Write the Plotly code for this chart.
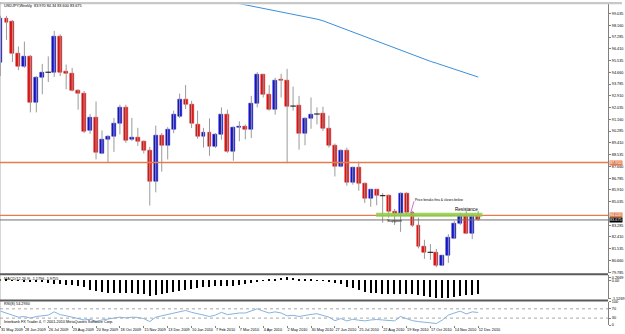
import plotly.graph_objects as go

W, H = 625, 334

# ---------------- data ----------------
opens = [95.43, 98.67, 98.42, 96.05, 95.12, 95.85, 92.42, 94.31, 94.67, 94.63,
         97.32, 94.70, 94.55, 93.33, 93.11, 90.34, 91.32, 88.62, 89.65, 89.90,
         90.83, 92.05, 89.65, 89.80, 89.55, 88.82, 86.54, 89.97, 89.19, 90.39,
         91.39, 92.67, 92.30, 90.78, 89.92, 90.17, 89.16, 90.02, 91.56, 88.79,
         90.53, 90.66, 90.39, 92.37, 94.50, 93.03, 91.88, 94.14, 94.06, 92.15,
         92.22, 90.09, 91.20, 91.56, 91.60, 90.51, 89.19, 87.64, 88.82, 86.46,
         87.59, 86.42, 85.31, 85.93, 85.48, 85.48, 84.33, 84.14, 85.63, 84.21,
         83.23, 81.71, 81.27, 81.22, 80.29, 81.02, 82.32, 83.42, 84.04, 82.69,
         83.97]
highs = [98.87, 98.87, 98.55, 96.59, 96.95, 95.95, 94.38, 95.29, 95.85, 97.74,
         97.49, 95.24, 94.99, 93.40, 93.28, 91.56, 92.49, 90.34, 89.97, 91.27,
         92.25, 92.25, 91.27, 90.53, 89.60, 89.11, 90.70, 90.14, 90.58, 91.81,
         93.08, 93.72, 92.54, 91.81, 90.53, 91.24, 90.14, 92.05, 91.88, 90.63,
         91.02, 90.78, 92.91, 94.67, 94.55, 93.72, 94.26, 94.55, 94.92, 93.60,
         92.91, 91.32, 92.79, 92.05, 92.10, 91.44, 89.36, 88.91, 89.06, 87.64,
         88.01, 86.46, 85.97, 85.97, 85.68, 85.56, 84.50, 85.73, 85.73, 84.33,
         83.84, 82.20, 81.88, 81.51, 81.07, 82.62, 83.60, 84.21, 84.33, 84.16,
         84.34]
lows = [94.38, 97.08, 95.43, 94.82, 94.99, 91.68, 91.68, 93.03, 93.94, 94.31,
        94.38, 93.40, 93.23, 91.88, 90.14, 90.09, 88.18, 88.57, 87.96, 88.74,
        90.04, 89.41, 89.55, 89.19, 88.62, 84.75, 85.73, 87.27, 88.18, 90.14,
        91.27, 91.93, 90.51, 89.72, 89.06, 88.45, 89.04, 89.65, 88.67, 88.08,
        89.53, 89.67, 89.77, 92.05, 92.79, 91.81, 91.51, 92.79, 87.89, 91.81,
        88.91, 89.23, 90.46, 90.78, 90.30, 89.06, 86.91, 87.59, 86.22, 86.30,
        85.85, 84.94, 84.65, 84.77, 83.47, 83.84, 83.30, 82.79, 84.04, 83.16,
        81.56, 80.78, 80.70, 80.17, 80.24, 80.48, 82.25, 83.30, 82.62, 82.25,
        83.60]
closes = [98.67, 98.375, 96.05, 95.12, 95.85, 92.42, 94.31, 94.67, 94.67, 97.32,
          94.67, 94.55, 93.33, 93.11, 90.29, 91.32, 88.70, 89.65, 89.90, 90.83,
          92.05, 89.60, 89.80, 89.55, 88.82, 86.54, 89.97, 89.19, 90.39, 91.49,
          92.67, 92.30, 90.83, 89.92, 90.17, 89.16, 90.02, 91.56, 88.79, 90.58,
          90.66, 90.39, 92.37, 94.50, 93.03, 91.88, 94.09, 94.06, 92.12, 92.15,
          90.09, 91.20, 91.56, 91.56, 90.50, 89.19, 87.64, 88.82, 86.46, 87.59,
          86.42, 85.31, 85.93, 85.48, 85.48, 84.33, 84.14, 85.63, 84.21, 83.23,
          81.71, 81.27, 81.27, 80.29, 81.02, 82.37, 83.42, 84.04, 82.69, 83.95,
          83.675]

# moving average (drawn from bar 38 onwards)
ma_start = 38
ma_vals = [99.95, 99.86, 99.77, 99.68, 99.59, 99.50, 99.42, 99.34, 99.26, 99.17,
           99.09, 99.01, 98.92, 98.83, 98.73, 98.62, 98.50, 98.33, 98.16, 98.00,
           97.83, 97.66, 97.49, 97.32, 97.16, 96.99, 96.82, 96.65, 96.48, 96.32,
           96.15, 95.98, 95.81, 95.64, 95.48, 95.34, 95.19, 95.04, 94.90, 94.75,
           94.60, 94.45, 94.31]

macd = [0.05, 0.02, -0.02, -0.05, -0.08, -0.12, -0.15, -0.18, -0.20, -0.33,
        -0.33, -0.39, -0.42, -0.47, -0.61, -0.81, -0.89, -1.03, -1.08, -1.11,
        -1.11, -1.11, -1.11, -1.14, -1.19, -1.31, -1.25, -1.17, -1.11, -1.03,
        -0.94, -0.83, -0.75, -0.69, -0.61, -0.58, -0.53, -0.53, -0.47, -0.47,
        -0.39, -0.36, -0.25, -0.08, -0.03, 0.03, 0.08, 0.18, 0.267, 0.20,
        0.10, 0.05, 0.02, -0.02, -0.05, -0.15, -0.28, -0.36, -0.56, -0.64,
        -0.83, -0.97, -1.06, -1.11, -1.14, -1.14, -1.17, -1.19, -1.19, -1.19,
        -1.25, -1.31, -1.39, -1.47, -1.527, -1.50, -1.42, -1.33, -1.27, -1.22,
        -1.18]

rsi = [60, 52, 42, 34, 37, 30, 37, 40, 43, 57,
       45, 40, 34, 30, 22, 25, 16, 22, 27, 30,
       34, 31, 34, 33, 28, 15, 34, 40, 45, 52,
       58, 63, 55, 48, 43, 37, 43, 55, 45, 49,
       52, 52, 60, 70, 60, 52, 57, 52, 40, 42,
       37, 43, 46, 49, 43, 34, 19, 28, 18, 25,
       21, 18, 22, 24, 22, 21, 18, 37, 28, 19,
       15, 13, 12, 7, 22, 43, 52, 60, 48, 57,
       54.29]

date_labels = ["31 May 2009", "28 Jun 2009", "26 Jul 2009", "23 Aug 2009", "20 Sep 2009",
               "18 Oct 2009", "15 Nov 2009", "13 Dec 2009", "10 Jan 2010", "7 Feb 2010",
               "7 Mar 2010", "4 Apr 2010", "2 May 2010", "30 May 2010", "27 Jun 2010",
               "25 Jul 2010", "22 Aug 2010", "19 Sep 2010", "17 Oct 2010", "14 Nov 2010",
               "12 Dec 2010"]
date_step = 4

# 84.160 is hidden behind the orange level box in the reference
price_labels = ["99.035", "98.160", "97.285", "96.410", "95.535", "94.660", "93.785",
                "92.910", "92.035", "91.160", "90.285", "89.410", "88.535", "87.660",
                "86.785", "85.910", "85.035", "83.285", "82.410", "81.535",
                "80.660", "79.785"]

support_level_1 = 87.95
support_level_2 = 84.02
bid_price = 83.675
green_level = 84.07
green_from, green_to = 62.9, 80.7

title_text = "USDJPY,Weekly  83.970 84.34 83.600 83.675"
macd_text = "MACD(12,26,9) -1.1796 -1.9755"
rsi_text = "RSI(8) 54.2930"
footer_text = "Interbank FX Trader 4, \u00a9 2001-2010 MetaQuotes Software Corp."
macd_tick_vals = [0.2669, 0.0, -1.5269]
macd_tick_text = ["0.2669", "0.00", "-1.5269"]
rsi_tick_vals = [100, 70, 30, 0]

# ---------------- styles ----------------
RED = "#DC1414"
BLUE = "#1414C8"
WICK = "#9A9A9A"
ORANGE = "#E57C4C"
FONT = "Liberation Sans"
FS = 3.8

n = len(closes)
xs = list(range(n))

fig = go.Figure()

# wicks
wx, wy = [], []
for i in xs:
    wx += [i, i, None]
    wy += [lows[i], highs[i], None]
fig.add_trace(go.Scatter(x=wx, y=wy, mode="lines", line=dict(color=WICK, width=1),
                         hoverinfo="skip", showlegend=False, xaxis="x", yaxis="y"))

# bodies
bx, bbase, bh, bc = [], [], [], []
dx, dy = [], []
for i in xs:
    o, c = opens[i], closes[i]
    if o == c:
        dx.append(i)
        dy.append(c)
        continue
    bx.append(i)
    bbase.append(min(o, c))
    bh.append(abs(c - o))
    bc.append(BLUE if c > o else RED)
fig.add_trace(go.Bar(x=bx, y=bh, base=bbase, width=0.66,
                     marker=dict(color=bc, line=dict(color=bc, width=0.5)),
                     showlegend=False, xaxis="x", yaxis="y"))
fig.add_trace(go.Scatter(x=dx, y=dy, mode="markers",
                         marker=dict(symbol="line-ew", size=4, line=dict(color="black", width=1)),
                         showlegend=False, xaxis="x", yaxis="y"))

# moving average
fig.add_trace(go.Scatter(x=list(range(ma_start, ma_start + len(ma_vals))), y=ma_vals,
                         mode="lines", line=dict(color="#3A8EDB", width=1),
                         showlegend=False, xaxis="x", yaxis="y"))

# MACD histogram
fig.add_trace(go.Bar(x=xs, y=macd, width=0.24, marker=dict(color="black", line=dict(width=0)),
                     showlegend=False, xaxis="x", yaxis="y2"))

# RSI
fig.add_trace(go.Scatter(x=xs, y=rsi, mode="lines", line=dict(color="#86B2DE", width=1),
                         showlegend=False, xaxis="x", yaxis="y3"))

# ---------------- layout ----------------
px_per_bar = 6.0
plot_right = 611.0
xr = [-0.5 / px_per_bar, (plot_right - 0.5) / px_per_bar]

def py(pix):
    return 1 - pix / H

main_top, main_bot = 2.5, 274.5
macd_top, macd_bot = 276.5, 300.5
rsi_top, rsi_bot = 303.5, 327.0

price_tickvals = [float(s) for s in price_labels]
px_per_yen = 13.6
p_ref, y_ref = 99.035, 11.7
main_range = [p_ref - (main_bot - y_ref) / px_per_yen, p_ref + (y_ref - main_top) / px_per_yen]
macd_px = 12.0
macd_zero = 281.7
macd_range = [-(macd_bot - macd_zero) / macd_px, (macd_zero - macd_top) / macd_px]

axis_common = dict(side="right", anchor="x", showgrid=False, zeroline=False,
                   showline=True, linecolor="#808080", linewidth=1,
                   ticks="outside", ticklen=2, tickcolor="#808080",
                   tickfont=dict(family=FONT, size=FS, color="black"))

fig.update_layout(
    width=W, height=H, margin=dict(l=0, r=0, t=0, b=0),
    paper_bgcolor="white", plot_bgcolor="white",
    bargap=0, barmode="overlay", showlegend=False,
    xaxis=dict(domain=[0, plot_right / W], range=xr, anchor="y3",
               showgrid=False, zeroline=False, showline=False,
               tickvals=[i * date_step for i in range(len(date_labels))],
               ticktext=date_labels, ticks="outside", ticklen=2, tickcolor="#808080",
               ticklabelposition="outside right", tickangle=0,
               tickfont=dict(family=FONT, size=FS, color="black")),
    yaxis=dict(domain=[py(main_bot), py(main_top)], range=main_range,
               tickvals=price_tickvals, ticktext=price_labels, **axis_common),
    yaxis2=dict(domain=[py(macd_bot), py(macd_top)], range=macd_range,
                tickvals=macd_tick_vals, ticktext=macd_tick_text, **axis_common),
    yaxis3=dict(domain=[py(rsi_bot), py(rsi_top)], range=[0, 100],
                tickvals=rsi_tick_vals, **axis_common),
)

xd = plot_right / W
shapes = [
    dict(type="rect", xref="paper", yref="paper", x0=0, x1=1, y0=py(2.3), y1=1,
         fillcolor="#C8C8C8", line=dict(width=0), layer="above"),
    dict(type="line", xref="paper", yref="paper", x0=0, x1=0, y0=py(rsi_bot), y1=1,
         line=dict(color="#B0B0B0", width=1)),
    dict(type="line", xref="paper", yref="paper", x0=0, x1=xd, y0=py(275.5), y1=py(275.5),
         line=dict(color="#5A5A5A", width=2)),
    dict(type="line", xref="paper", yref="paper", x0=0, x1=xd, y0=py(302.0), y1=py(302.0),
         line=dict(color="#5A5A5A", width=2)),
    dict(type="line", xref="paper", yref="y", x0=0, x1=xd, y0=support_level_1, y1=support_level_1,
         line=dict(color=ORANGE, width=1.3)),
    dict(type="line", xref="paper", yref="y", x0=0, x1=xd, y0=support_level_2, y1=support_level_2,
         line=dict(color=ORANGE, width=1.3)),
    dict(type="line", xref="paper", yref="y", x0=0, x1=xd, y0=bid_price, y1=bid_price,
         line=dict(color="#707070", width=1)),
    dict(type="line", xref="x", yref="y", x0=green_from, x1=green_to, y0=green_level, y1=green_level,
         line=dict(color="rgba(140,205,70,0.85)", width=4)),
    dict(type="line", xref="x", yref="y", x0=69.25, x1=68.7, y0=85.06, y1=84.21,
         line=dict(color="#D070D0", width=1)),
    dict(type="line", xref="paper", yref="y3", x0=0, x1=xd, y0=70, y1=70,
         line=dict(color="#A8A8A8", width=1, dash="dot")),
    dict(type="line", xref="paper", yref="y3", x0=0, x1=xd, y0=30, y1=30,
         line=dict(color="#A8A8A8", width=1, dash="dot")),
]
fig.update_layout(shapes=shapes)

def note(text, x, y, xref="paper", yref="paper", size=FS, color="black", **kw):
    return dict(text=text, x=x, y=y, xref=xref, yref=yref, showarrow=False,
                xanchor=kw.pop("xanchor", "left"), yanchor=kw.pop("yanchor", "middle"),
                font=dict(family=FONT, size=size, color=color), **kw)

annotations = [
    note(title_text, 2.5 / W, py(4.5)),
    note(macd_text, 2 / W, py(280)),
    note(rsi_text, 2 / W, py(305.8)),
    note(footer_text, 2 / W, py(323.8)),
    note("Price breaks thru &amp; closes below", 69.1, 85.19, xref="x", yref="y", size=3.3),
    note("Resistance", 75.7, 84.45, xref="x", yref="y", size=4.6),
    note("Support", 64.4, 83.62, xref="x", yref="y", size=4.2),
    note("%.3f" % support_level_1, xd + 0.5 / W, support_level_1, yref="y", color="white",
         bgcolor=ORANGE, borderpad=0),
    note("%.3f" % support_level_2, xd + 0.5 / W, support_level_2, yref="y", color="white",
         bgcolor=ORANGE, borderpad=0),
    note("%.3f" % bid_price, xd + 0.5 / W, bid_price, yref="y", color="white",
         bgcolor="black", borderpad=0),
]
fig.update_layout(annotations=annotations)

fig.write_html("out.html")
